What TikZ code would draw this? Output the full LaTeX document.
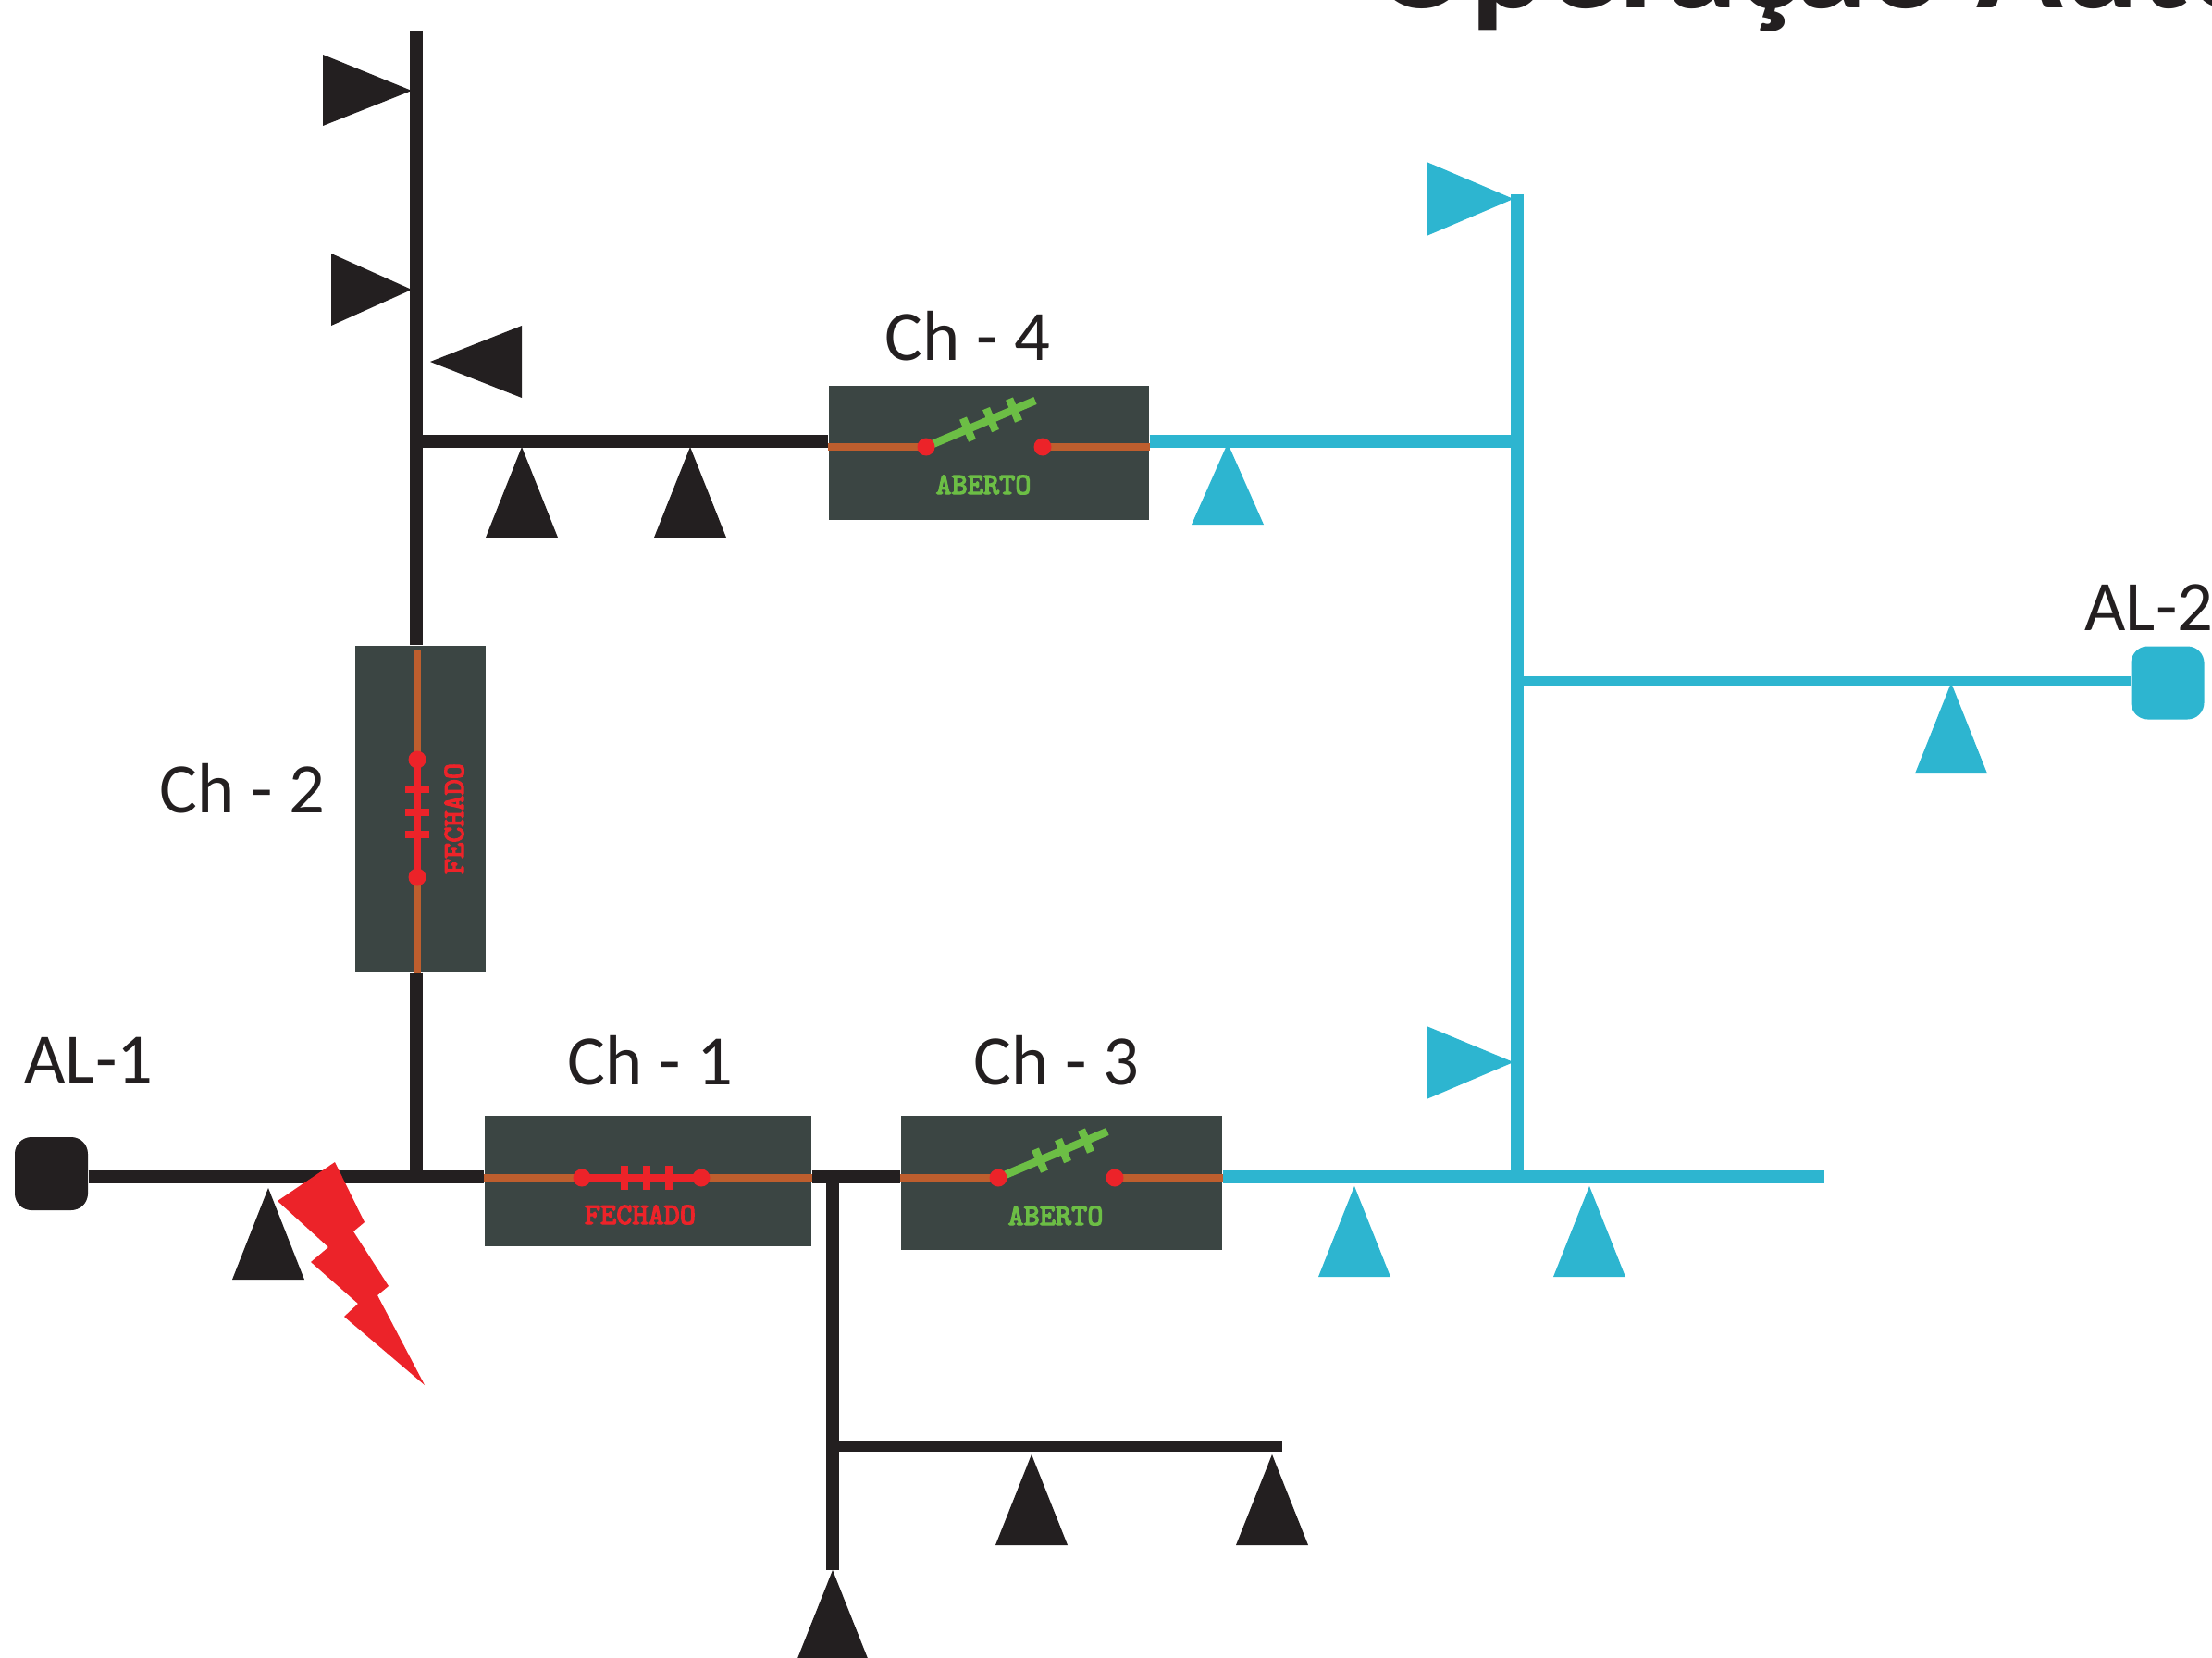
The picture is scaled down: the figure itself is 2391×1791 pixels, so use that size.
\documentclass[tikz,border=0pt]{standalone}
\usepackage{fontspec}
\setmainfont{Carlito}
\newfontfamily\statefont[FakeBold=3.5]{Latin Modern Mono}
\definecolor{ink}{HTML}{231F20}
\definecolor{teal}{HTML}{2DB5D0}
\definecolor{panel}{HTML}{3B4543}
\definecolor{contactc}{HTML}{BE5E2E}
\definecolor{faultc}{HTML}{EC2329}
\definecolor{openc}{HTML}{6CBE45}
\tikzset{
  feeder/.style={line width=1.4mm},
  chbox/.style={fill=panel,inner sep=0pt},
  source/.style={rounded corners=1.8mm,inner sep=0pt,minimum width=7.9mm,minimum height=7.9mm},
  chlabel/.style={ink,font=\fontsize{21.8}{24}\selectfont,inner sep=0pt},
  statetext/.style={font=\fontsize{9.3}{10}\selectfont\statefont,inner sep=0pt},
  contact/.style={contactc,line width=0.85mm},
  blade/.style={line width=0.85mm},
}
\begin{document}
\begin{tikzpicture}[x=0.1mm,y=-0.1mm]
  \clip (0,-1) rectangle (2391,1790);
  % title, cut by the top edge
  \node[ink,font=\fontsize{44}{46}\selectfont\bfseries,anchor=base west,inner sep=0pt] (title) at (1484,8) {Operação Auto};
  % panels
  \node[chbox,minimum width=35.3mm,minimum height=14.1mm] (ch1) at (700.5,1275.5) {};
  \node[chbox,minimum width=14.1mm,minimum height=35.3mm] (ch2) at (454.5,873.5) {};
  \node[chbox,minimum width=34.7mm,minimum height=14.5mm] (ch3) at (1147.5,1277.5) {};
  \node[chbox,minimum width=34.6mm,minimum height=14.5mm] (ch4) at (1069,488.5) {};
  % sources
  \node[source,fill=ink] (al1) at (55.5,1267.5) {};
  \node[source,fill=teal] (al2) at (2343,737) {};
  % junctions
  \coordinate (top) at (450,32);
  \coordinate (j1) at (450,1271);
  \coordinate (j2) at (450,476);
  \coordinate (j3) at (900,1271);
  \coordinate (j4) at (900,1562);
  \coordinate (low) at (900,1696);
  \coordinate (lowend) at (1386,1562);
  \coordinate (t1) at (1640,476);
  \coordinate (t2) at (1640,735);
  \coordinate (t3) at (1640,1271);
  \coordinate (ttop) at (1640,209);
  \coordinate (tend) at (1972,1271);
  % black feeders
  \draw[feeder,ink] (top) -- (ch2.north -| top);
  \draw[feeder,ink] (ch2.south -| top) -- (j1);
  \draw[feeder,ink] (al1.east |- j1) -- (ch1.west |- j1);
  \draw[feeder,ink] (j2) -- (ch4.west |- j2);
  \draw[feeder,ink] (ch1.east |- j3) -- (ch3.west |- j3);
  \draw[feeder,ink] (j3) -- (low);
  \draw[ink,line width=1.2mm] (j4) -- (lowend);
  % teal feeders
  \draw[feeder,teal] (ch4.east |- t1) -- (t1);
  \draw[feeder,teal] (ttop) -- (t3);
  \draw[feeder,teal] (ch3.east |- t3) -- (tend);
  \draw[teal,line width=1.0mm] (t2) -- (al2.west |- t2);
  % switches left open
  \foreach \nm/\ox/\oy/\tx in {ch4/1001/482/1063, ch3/1079/1272/1141}{
    \draw[contact] (\nm.west |- 0,\oy) -- (\ox,\oy);
    \draw[contact] (\ox+126,\oy) -- (\nm.east |- 0,\oy);
    \draw[openc,blade] (\ox,\oy) -- ++(118,-50);
    \foreach \d in {45,70,95}
      \draw[openc,blade] (\ox+\d-5,\oy-\d*0.42-12) -- ++(10,24);
    \fill[faultc] (\ox,\oy) circle (9.5);
    \fill[faultc] (\ox+126,\oy) circle (9.5);
    \node[openc,statetext] (\nm txt) at (\tx,\oy+41) {ABERTO};
  }
  % closed, horizontal
  \draw[contact] (ch1.west |- 0,1272) -- (ch1.east |- 0,1272);
  \draw[faultc,blade] (629,1272) -- (758,1272);
  \foreach \d in {675,699,723}
    \draw[faultc,blade] (\d,1259) -- (\d,1285);
  \fill[faultc] (629,1272) circle (9.5);
  \fill[faultc] (758,1272) circle (9.5);
  \node[faultc,statetext] (ch1txt) at (692,1312) {FECHADO};
  % closed, vertical
  \draw[contact] (451,701) -- (ch2.south -| 451,0);
  \draw[faultc,blade] (451,820) -- (451,947);
  \foreach \d in {852,877,901}
    \draw[faultc,blade] (438,\d) -- (464,\d);
  \fill[faultc] (451,820) circle (9.5);
  \fill[faultc] (451,947) circle (9.5);
  \node[faultc,statetext,rotate=90] (ch2txt) at (491,884) {FECHADO};
  \begin{scope}[yshift=0.1mm]
  % triangles pointing up
  \foreach \cx/\ay/\by in {290/1284/1383, 564/483/581, 746/483/581, 1115/1572/1670, 1375/1572/1670, 900/1697/1795}
    \fill[ink] (\cx,\ay) -- (\cx+39,\by) -- (\cx-39,\by) -- cycle;
  \foreach \cx/\ay/\by in {1327/479/567, 2109/738/836, 1464/1282/1380, 1718/1282/1380}
    \fill[teal] (\cx,\ay) -- (\cx+39,\by) -- (\cx-39,\by) -- cycle;
  % triangles on their side
  \fill[ink] (445,98) -- (349,59) -- (349,136) -- cycle;
  \fill[ink] (445,313) -- (358,274) -- (358,352) -- cycle;
  \fill[ink] (465,391) -- (564,352) -- (564,430) -- cycle;
  \fill[teal] (1636,215) -- (1542,175) -- (1542,255) -- cycle;
  \fill[teal] (1636,1148) -- (1542,1109) -- (1542,1188) -- cycle;
  \end{scope}
  % fault
  \fill[faultc] (362,1255) -- (394,1320) -- (382,1330) -- (420,1389) -- (408,1399) -- (459,1496)
    -- (372,1422) -- (387,1408) -- (336,1363) -- (355,1347) -- (300,1297) -- cycle;
  % labels
  \node[chlabel] (lch1) at (703,1145) {Ch - 1};
  \node[chlabel] (lch2) at (262,851) {Ch - 2};
  \node[chlabel] (lch3) at (1142,1145) {Ch - 3};
  \node[chlabel] (lch4) at (1046,362) {Ch - 4};
  \node[chlabel] (lal1) at (96,1145) {AL-1};
  \node[chlabel] (lal2) at (2323,656) {AL-2};
\end{tikzpicture}
\end{document}
